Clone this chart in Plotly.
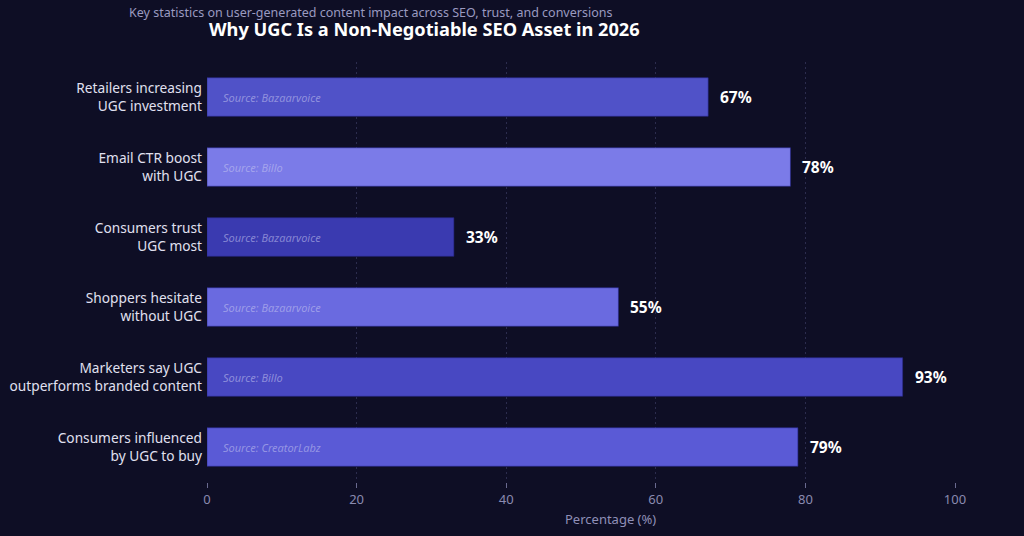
import plotly.graph_objects as go

categories = [
    "Retailers increasing<br>UGC investment",
    "Email CTR boost<br>with UGC",
    "Consumers trust<br>UGC most",
    "Shoppers hesitate<br>without UGC",
    "Marketers say UGC<br>outperforms branded content",
    "Consumers influenced<br>by UGC to buy",
]
values = [67, 78, 33, 55, 93, 79]
sources = ["Bazaarvoice", "Billo", "Bazaarvoice", "Bazaarvoice", "Billo", "CreatorLabz"]
bar_colors = ["#5052c8", "#7b7be8", "#3a3ab0", "#6a6ae0", "#4848c2", "#5a5ad6"]
x_ticks = [0, 20, 40, 60, 80, 100]

BG = "#0e0e25"
W, H = 1024, 536
ml, mr, mt, mb = 207, 69, 62, 54
pw, ph = W - ml - mr, H - mt - mb

fig = go.Figure()
fig.add_trace(go.Bar(
    y=categories, x=values, orientation="h",
    marker=dict(color=bar_colors, line=dict(color="rgba(40,40,140,0.6)", width=1)),
    width=0.55, hoverinfo="x+y",
))

ann = []
for c, v, s in zip(categories, values, sources):
    ann.append(dict(x=v, y=c, xref="x", yref="y", text=f"<b>{v}%</b>", showarrow=False,
                    xanchor="left", xshift=10, font=dict(size=15.5, color="#ffffff", family="Noto Sans")))
    ann.append(dict(x=0, y=c, xref="x", yref="y", text=f"<i>Source: {s}</i>", showarrow=False,
                    xanchor="left", xshift=14, font=dict(size=11, color="rgba(200,200,240,0.55)", family="Noto Sans")))


def px_ann(px, py, text, size, color):
    return dict(x=(px - ml) / pw, y=1 - (py - mt) / ph, xref="paper", yref="paper",
                xanchor="center", yanchor="middle", text=text, showarrow=False,
                font=dict(size=size, color=color, family="Noto Sans"))


ann.append(px_ann(424, 29, "<b>Why UGC Is a Non-Negotiable SEO Asset in 2026</b>", 18.2, "#ffffff"))
ann.append(px_ann(370, 13, "Key statistics on user-generated content impact across SEO, trust, and conversions", 12.5, "#9a9ac0"))
ann.append(px_ann(610, 519, "Percentage (%)", 13, "#9090b8"))

fig.update_layout(
    width=W, height=H,
    margin=dict(l=ml, r=mr, t=mt, b=mb),
    paper_bgcolor=BG, plot_bgcolor=BG,
    font=dict(family="Noto Sans", color="#e0e0f0"),
    showlegend=False,
    annotations=ann,
)
fig.update_xaxes(
    range=[0, 100], tickvals=x_ticks, ticks="outside", ticklen=5, tickcolor="#6a6a90",
    tickfont=dict(size=13, color="#8a8ab0"), automargin=False,
    showgrid=True, gridcolor="#2c2c4e", griddash="2px,3px", gridwidth=1,
    zeroline=False, showline=False,
)
fig.update_yaxes(
    categoryorder="array", categoryarray=categories, autorange="reversed",
    tickfont=dict(size=13.7, color="#e0e0f0"), ticks="", ticklabelstandoff=4,
    automargin=False,
    showgrid=False, zeroline=False, showline=False,
)
fig.write_html("out.html")
